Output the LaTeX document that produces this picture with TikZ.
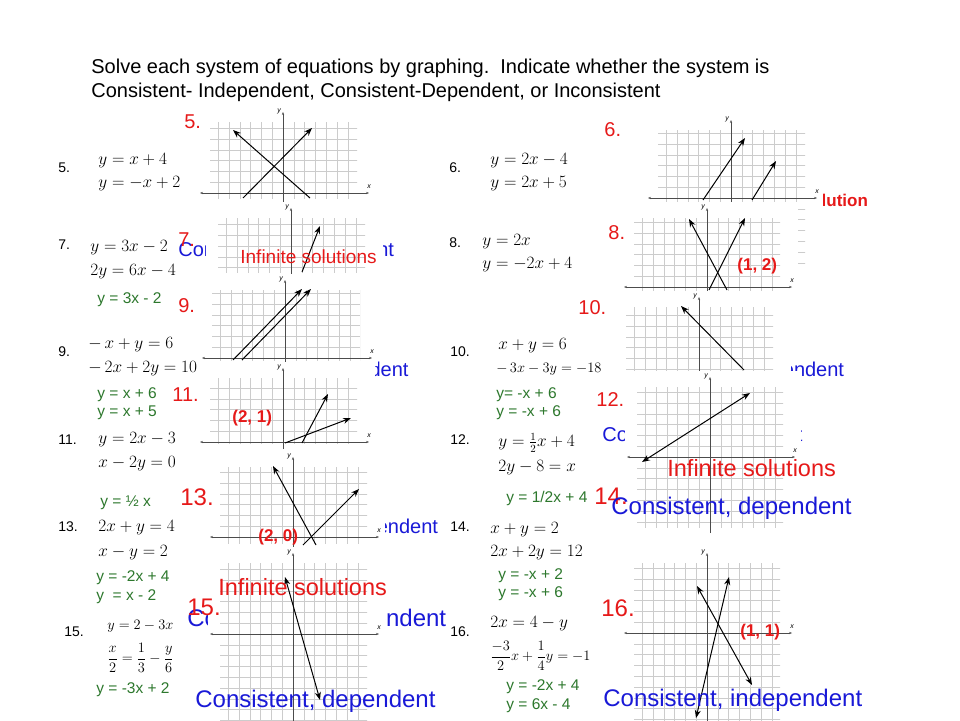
\documentclass[tikz,border=0pt]{standalone}
\usepackage{amsmath}
\usepackage{fontspec}
\setmainfont{Liberation Sans}
\usetikzlibrary{arrows.meta}
\definecolor{numred}{RGB}{230,25,25}
\definecolor{txtblue}{RGB}{25,25,215}
\definecolor{eqgreen}{RGB}{45,120,45}
\tikzset{every picture/.style={line width=0.75pt},
  gridline/.style={gray!40,line width=0.5pt},
  axisline/.style={gray!60!black,line width=0.9pt},
  graphline/.style={black,line width=1pt,-{Stealth[length=8pt,width=6pt]}},
  bothline/.style={black,line width=1pt,{Stealth[length=8pt,width=6pt]}-{Stealth[length=8pt,width=6pt]}},
  txt/.style={anchor=west,inner sep=0pt},
  smallnum/.style={txt,font=\fontsize{14}{16}\selectfont},
  eq/.style={txt,font=\fontsize{16}{19}\selectfont},
  greeneq/.style={txt,text=eqgreen,font=\fontsize{15.5}{18}\selectfont},
  rednum/.style={txt,text=numred,font=\fontsize{20}{24}\selectfont},
  bignum/.style={txt,text=numred,font=\fontsize{24}{28}\selectfont},
  status/.style={txt,text=txtblue,font=\fontsize{24}{28}\selectfont},
  redstatus/.style={txt,text=numred,font=\fontsize{23.5}{28}\selectfont},
  point/.style={txt,text=numred,font=\bfseries\fontsize{17}{20}\selectfont}}
% grid panel: x1,y1,x2,y2,axis x,axis y
\newcommand{\gridpanel}[6]{%
  \fill[white] (#1-12,#2-16) rectangle (#3+18,#4+6);
  \begin{scope}
  \clip (#1-12,#2-16) rectangle (#3+18,#4+6);
  \begin{scope}
  \clip (#1,#2) rectangle (#3,#4);
  \draw[gridline,shift={(#5,#6)}] (#1-#5-12,#2-#6-12) grid[step=10.8] (#3-#5+12,#4-#6+12);
  \end{scope}
  \draw[axisline,-{Stealth[length=3pt]}] (#5,#4+6) -- (#5,#2-10);
  \draw[axisline,{Stealth[length=3pt]}-{Stealth[length=3pt]}] (#1-10,#6) -- (#3+12,#6);
  \node[font=\itshape\fontsize{7}{7}\selectfont] at (#5-4,#2-11) {y};
  \node[font=\itshape\fontsize{7}{7}\selectfont] at (#3+12,#6-6) {x};
  \end{scope}}

\begin{document}
\begin{tikzpicture}[x=1pt,y=1pt,yscale=-1,xscale=1]
\useasboundingbox[fill=white] (0,0) rectangle (960,720);

% Title
\node[txt,font=\fontsize{20}{24}\selectfont] (title1) at (91,68) {Solve each system of equations by graphing.\ \ Indicate whether the system is};
\node[txt,font=\fontsize{20}{24}\selectfont] (title2) at (91,92) {Consistent- Independent, Consistent-Dependent, or Inconsistent};

% Problem numbers
\node[smallnum] (n5) at (58,168) {5.};
\node[smallnum] (n6) at (449,168) {6.};
\node[smallnum] (n7) at (58,245) {7.};
\node[smallnum] (n8) at (449,243) {8.};
\node[smallnum] (n9) at (58,352) {9.};
\node[smallnum] (n10) at (450,352) {10.};
\node[smallnum] (n11) at (58,440) {11.};
\node[smallnum] (n12) at (450,440) {12.};
\node[smallnum] (n13) at (58,527) {13.};
\node[smallnum] (n14) at (450,527) {14.};
\node[smallnum] (n15) at (64,632) {15.};
\node[smallnum] (n16) at (450,632) {16.};

% Equations
\node[eq] (e5a) at (98,161) {$y=x+4$};
\node[eq] (e5b) at (98,184) {$y=-x+2$};
\node[eq] (e6a) at (490,161) {$y=2x-4$};
\node[eq] (e6b) at (490,184) {$y=2x+5$};
\node[eq] (e7a) at (90,248) {$y=3x-2$};
\node[eq] (e7b) at (90,272) {$2y=6x-4$};
\node[greeneq] (g7) at (97,300) {y = 3x - 2};
\node[eq] (e8a) at (482,242) {$y=2x$};
\node[eq] (e8b) at (482,265) {$y=-2x+4$};
\node[eq] (e9a) at (88,345) {$-\,x+y=6$};
\node[eq] (e9b) at (88,369) {$-\,2x+2y=10$};
\node[greeneq] (g9a) at (97,395) {y = x + 6};
\node[greeneq] (g9b) at (97,413) {y = x + 5};
\node[eq] (e10a) at (498,346) {$x+y=6$};
\node[eq,font=\fontsize{14.5}{17}\selectfont] (e10b) at (496,369) {$-\,3x-3y=-18$};
\node[greeneq] (g10a) at (496,395) {y= -x + 6};
\node[greeneq] (g10b) at (496,413) {y = -x + 6};
\node[eq] (e11a) at (98,440) {$y=2x-3$};
\node[eq] (e11b) at (98,464) {$x-2y=0$};
\node[greeneq] (g11) at (100,503) {y = ½ x};
\node[eq] (e12a) at (498,443) {$y=\frac{1}{2}x+4$};
\node[eq] (e12b) at (498,468) {$2y-8=x$};
\node[greeneq] (g12) at (506,498) {y = 1/2x + 4};
\node[eq] (e13a) at (98,528) {$2x+y=4$};
\node[eq] (e13b) at (98,553) {$x-y=2$};
\node[greeneq] (g13a) at (96,578) {y = -2x + 4};
\node[greeneq] (g13b) at (96,597) {y \ = x - 2};
\node[eq] (e14a) at (490,530) {$x+y=2$};
\node[eq] (e14b) at (490,553) {$2x+2y=12$};
\node[greeneq] (g14a) at (498,576) {y = -x + 2};
\node[greeneq] (g14b) at (498,594) {y = -x + 6};
\node[eq,font=\fontsize{15}{18}\selectfont] (e15a) at (107,626) {$y=2-3x$};
\node[eq,font=\fontsize{14.5}{17}\selectfont] (e15b) at (107,658) {$\dfrac{x}{2}=\dfrac{1}{3}-\dfrac{y}{6}$};
\node[greeneq] (g15) at (96,690) {y = -3x + 2};
\node[eq] (e16a) at (490,624) {$2x=4-y$};
\node[eq,font=\fontsize{14.5}{17}\selectfont] (e16b) at (490,656) {$\dfrac{-3}{2}x+\dfrac{1}{4}y=-1$};
\node[greeneq] (g16a) at (506,687) {y = -2x + 4};
\node[greeneq] (g16b) at (506,706) {y = 6x - 4};

% Answers partly covered by later graphs
\node[status,font=\fontsize{20}{24}\selectfont] (s5) at (178,251) {Consistent, independent};
\node[status,font=\fontsize{20}{24}\selectfont] (s9) at (208,371) {Consistent, dependent};
\node[status,font=\fontsize{20}{24}\selectfont] (s13) at (222,528) {Consistent, independent};
\node[status] (s15) at (187,620) {Consistent, independent};
\node[point] (s6) at (776,200) {no solution};
\node[status,font=\fontsize{20}{24}\selectfont] (s8) at (628,371) {Consistent, independent};
\node[status,font=\fontsize{20}{24}\selectfont] (s10) at (602,436) {Consistent, dependent};
\node[rednum] (r7) at (178,240) {7.};

% Graphs
\gridpanel{210}{122}{357}{198}{283}{193}
\draw[graphline] (243,198) -- (312,128);
\draw[graphline] (310,198) -- (233,130);
\gridpanel{658}{130}{805}{270}{731}{198}
\draw[graphline] (703,200) -- (745,138);
\draw[graphline] (752,200) -- (776,161);
\gridpanel{218}{218}{365}{272}{291}{300}
\draw[graphline] (302,272) -- (320,226);
\gridpanel{634}{218}{780}{290}{707}{287}
\draw[graphline] (709,290) -- (745,218);
\draw[graphline] (727,290) -- (689,219);
\gridpanel{212}{290}{360}{360}{285}{358}
\draw[graphline] (233,360) -- (302,289);
\draw[graphline] (242,360) -- (311,289);
\gridpanel{626}{307}{773}{370}{699}{380}
\draw[graphline] (744,370) -- (681,306);
\gridpanel{210}{378}{357}{443}{283}{442}
\draw[graphline] (302,443) -- (328,394);
\draw[graphline] (285,443) -- (351,418);
\gridpanel{637}{387}{783}{527}{710}{457}
\draw[bothline] (750,393) -- (642,462);
\gridpanel{220}{467}{367}{543}{293}{537}
\draw[graphline] (316,545) -- (273,466);
\draw[graphline] (303,545) -- (359,489);
\gridpanel{220}{563}{367}{720}{293}{634}
\draw[bothline] (285,577) -- (320,700);
\gridpanel{634}{563}{780}{720}{707}{633}
\draw[bothline] (697,586) -- (752,685);
\draw[bothline] (696,718) -- (729,577);

% Red numbers
\node[rednum] (r5) at (184,122) {5.};
\node[rednum] (r6) at (604,130) {6.};
\node[rednum] (r8) at (608,233) {8.};
\node[rednum] (r9) at (178,306) {9.};
\node[rednum] (r10) at (578,308) {10.};
\node[rednum] (r11) at (172,395) {11.};
\node[rednum] (r12) at (596,400) {12.};
\node[bignum] (r13) at (180,497) {13.};
\node[bignum] (r14) at (594,496) {14.};
\node[bignum] (r15) at (187,607) {15.};
\node[bignum] (r16) at (601,608) {16.};

% Answers on top
\node[redstatus,font=\fontsize{19}{22}\selectfont] (a7) at (240,257) {Infinite solutions};
\node[point] (a11) at (232,418) {(2, 1)};
\node[point] (a8) at (737,266) {(1, 2)};
\node[redstatus] (a12) at (667,468) {Infinite solutions};
\node[status] (a12b) at (611,508) {Consistent, dependent};
\node[point] (a13) at (258,537) {(2, 0)};
\node[redstatus] (a15) at (218,587) {Infinite solutions};
\node[status] (a15b) at (195,701) {Consistent, dependent};
\node[point] (a16) at (740,632) {(1, 1)};
\node[status] (a16b) at (603,700) {Consistent, independent};
\end{tikzpicture}
\end{document}
